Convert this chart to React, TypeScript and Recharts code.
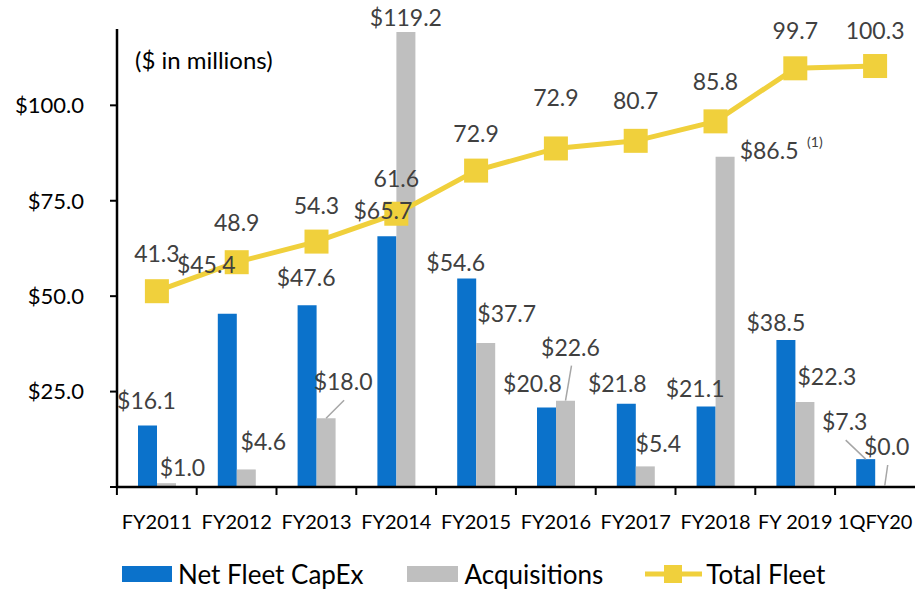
import { Bar, ComposedChart, Customized, LabelList, Legend, Line, XAxis, YAxis } from "recharts";

const years = ["FY2011", "FY2012", "FY2013", "FY2014", "FY2015", "FY2016", "FY2017", "FY2018", "FY 2019", "1QFY20"];
const netFleetCapex = [16.1, 45.4, 47.6, 65.7, 54.6, 20.8, 21.8, 21.1, 38.5, 7.3];
const acquisitions = [1.0, 4.6, 18.0, 119.2, 37.7, 22.6, 5.4, 86.5, 22.3, 0.0];
// marker positions as drawn; FY2016 marker sits higher than its printed label
const totalFleet = [41.3, 48.9, 54.3, 61.6, 72.9, 78.7, 80.7, 85.8, 99.7, 100.3];
const totalFleetLabels = ["41.3", "48.9", "54.3", "61.6", "72.9", "72.9", "80.7", "85.8", "99.7", "100.3"];
const acquisitionNotes = ["", "", "", "", "", "", "", "(1)", "", ""];
const yTicks = [0, 25, 50, 75, 100];

const data = years.map((year, i) => ({
  year,
  net: netFleetCapex[i],
  acq: acquisitions[i],
  fleet: totalFleet[i],
  fleetLabel: totalFleetLabels[i],
  note: acquisitionNotes[i],
}));

const BLUE = "#0B72CB";
const GRAY = "#BFBFBF";
const GOLD = "#F0D03C";
const LABEL = "#404040";
const FONT = "Lato, 'Open Sans', sans-serif";

// hand-placed label nudges, like the moved labels in the source
const netOffsets = [
  [-1, -11], [-21, -35], [-1, -13], [-4, -11], [-11, -2],
  [-14, -10], [-9, -6], [-11, -3], [-10, -3], [-21, -23],
];
const acqOffsets = [
  [16, -1], [17, -13], [17, -22], [0, 0], [21, -15],
  [5, -39], [13, -8], [44, 8], [22, -11], [2, -25],
];
const netLeaders = [9];
const acqLeaders = [2, 5, 9];
const fleetLabelDy = [-38, -40, -37, -36, -38, -51, -41, -40, -38, -36];

function barLabel(offsets: number[][], leaders: number[], withNotes: boolean) {
  return (props: any) => {
    const { x, y, width, value, index } = props;
    const cx = Number(x) + Number(width) / 2;
    const top = Number(y);
    const [dx, dy] = offsets[index] || [0, 0];
    const lx = cx + dx;
    const ly = top - 15 + dy;
    const note = withNotes ? data[index]?.note : "";
    return (
      <g>
        {leaders.includes(index) && (
          <line x1={lx + 1} y1={ly + 19} x2={cx} y2={top} stroke="#A6A6A6" strokeWidth={1.5} />
        )}
        <text x={lx} y={ly} textAnchor="middle" dominantBaseline="central" fill={LABEL} fontSize={23} fontFamily={FONT}>
          {`$${Number(value).toFixed(1)}`}
        </text>
        {note && (
          <text x={lx + 38} y={ly - 8} textAnchor="start" dominantBaseline="central" fill={LABEL} fontSize={14} fontFamily={FONT}>
            {note}
          </text>
        )}
      </g>
    );
  };
}

const netLabel = barLabel(netOffsets, netLeaders, false);
const acqLabel = barLabel(acqOffsets, acqLeaders, true);

const fleetLabel = (props: any) => {
  const { x, y, value, index } = props;
  return (
    <text x={x} y={Number(y) + fleetLabelDy[index]} textAnchor="middle" dominantBaseline="central" fill={LABEL} fontSize={23} fontFamily={FONT}>
      {value}
    </text>
  );
};

const XTick = (props: any) => {
  const { x, y, payload } = props;
  return (
    <g>
      <line x1={x - 40} y1={y} x2={x - 40} y2={y + 8} stroke="#000" strokeWidth={2} />
      <text x={x} y={y + 34} textAnchor="middle" dominantBaseline="central" fill="#000" fontSize={20} fontFamily={FONT}>
        {payload.value}
      </text>
    </g>
  );
};

const LegendContent = () => (
  <div style={{ display: "flex", alignItems: "center", height: 36, paddingLeft: 122, fontFamily: FONT, fontSize: 26, lineHeight: "32px", color: "#000" }}>
    <span style={{ display: "inline-block", width: 50, height: 16, background: BLUE, marginRight: 6 }} />
    <span style={{ marginRight: 44 }}>Net Fleet CapEx</span>
    <span style={{ display: "inline-block", width: 51, height: 16, background: GRAY, marginRight: 6 }} />
    <span style={{ marginRight: 42 }}>Acquisitions</span>
    <svg width={57} height={20} style={{ marginRight: 4 }}>
      <line x1={0} y1={10} x2={57} y2={10} stroke={GOLD} strokeWidth={5} />
      <rect x={19} y={1} width={18} height={18} fill={GOLD} />
    </svg>
    <span>Total Fleet</span>
  </div>
);

export default function App() {
  return (
    <div style={{ position: "absolute", left: 0, top: 0, width: 915, height: 589, background: "#fff" }}>
      <ComposedChart
        width={915}
        height={589}
        data={data}
        margin={{ top: 29, right: 0, left: 0, bottom: 16 }}
        barSize={19}
        barGap={0}
      >
        <XAxis
          dataKey="year"
          xAxisId="x"
          tick={<XTick />}
          tickLine={false}
          tickSize={0}
          tickMargin={0}
          height={50}
          axisLine={{ stroke: "#000", strokeWidth: 2.5 }}
          interval={0}
        />
        <YAxis
          yAxisId="left"
          width={117}
          domain={[0, 120]}
          ticks={yTicks}
          tickFormatter={(v: number) => (v === 0 ? "" : `$${v.toFixed(1)}`)}
          tick={{ fill: "#000", fontSize: 22, fontFamily: FONT }}
          tickSize={7}
          tickMargin={26}
          tickLine={{ stroke: "#000", strokeWidth: 2 }}
          axisLine={{ stroke: "#000", strokeWidth: 2.5 }}
          allowDataOverflow
        />
        <YAxis yAxisId="right" orientation="right" width={0} domain={[-10, 110]} hide />
        <Bar dataKey="net" name="Net Fleet CapEx" xAxisId="x" yAxisId="left" fill={BLUE} isAnimationActive={false}>
          <LabelList dataKey="net" content={netLabel} />
        </Bar>
        <Bar dataKey="acq" name="Acquisitions" xAxisId="x" yAxisId="left" fill={GRAY} minPointSize={1} isAnimationActive={false}>
          <LabelList dataKey="acq" content={acqLabel} />
        </Bar>
        <Line
          dataKey="fleet"
          name="Total Fleet"
          xAxisId="x"
          yAxisId="right"
          stroke={GOLD}
          strokeWidth={5}
          isAnimationActive={false}
          dot={(p: any) => <rect key={`d${p.index}`} x={p.cx - 12} y={p.cy - 12} width={24} height={24} fill={GOLD} />}
          activeDot={false}
        >
          <LabelList dataKey="fleetLabel" content={fleetLabel} />
        </Line>
        <Customized
          component={() => (
            <text x={135} y={59} dominantBaseline="central" fill="#000" fontSize={24} fontFamily={FONT}>
              ($ in millions)
            </text>
          )}
        />
        <Legend
          verticalAlign="bottom"
          height={52}
          wrapperStyle={{ top: 556, bottom: "auto", height: 36 }}
          content={<LegendContent />}
        />
      </ComposedChart>
    </div>
  );
}
